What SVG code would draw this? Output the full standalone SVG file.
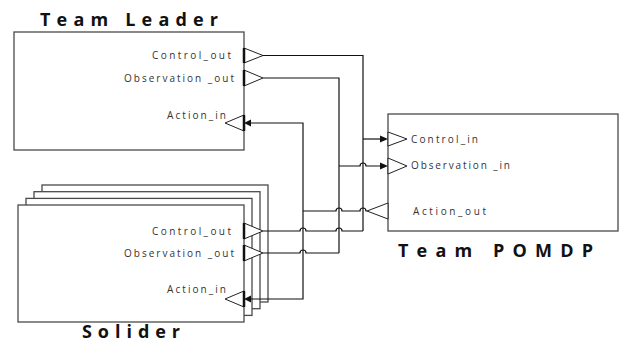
<svg xmlns="http://www.w3.org/2000/svg" width="623" height="343" viewBox="0 0 623 343">
  <style>
    .box { fill: #fff; stroke: #4a4a4a; stroke-width: 1.3; }
    .port { fill: #fff; stroke: #222; stroke-width: 1; }
    .base { stroke: #111; stroke-width: 2.5; }
    .wire { fill: none; stroke: #111; stroke-width: 1.2; }
    .head { fill: #111; }
    .lbl { font-family: "Open Sans", "DejaVu Sans", sans-serif; font-size: 10px; fill: #333; }
    .title { font-family: "Open Sans", "DejaVu Sans", sans-serif; font-size: 18px; font-weight: bold; fill: #111; }
  </style>

  <!-- Team Leader block -->
  <g id="team-leader">
    <text class="title" x="40" y="26" textLength="178" lengthAdjust="spacing">Team Leader</text>
    <rect class="box" x="14" y="32" width="230" height="118"/>
    <polygon class="port" points="244,48 263,55.5 244,63"/>
    <line class="base" x1="244" y1="48" x2="244" y2="63"/>
    <polygon class="port" points="244,70 263,78 244,86"/>
    <line class="base" x1="244" y1="70" x2="244" y2="86"/>
    <polygon class="port" points="244,115 225,123 244,131"/>
    <line class="base" x1="244" y1="115" x2="244" y2="131"/>
    <text class="lbl" x="152" y="59" textLength="79" lengthAdjust="spacing">Control_out</text>
    <text class="lbl" x="124" y="82" textLength="110" lengthAdjust="spacing">Observation _out</text>
    <text class="lbl" x="167" y="119" textLength="59" lengthAdjust="spacing">Action_in</text>
  </g>

  <!-- Solider block (stacked instances) -->
  <g id="solider">
    <rect class="box" x="42" y="185" width="226" height="117"/>
    <rect class="box" x="34" y="191.7" width="226" height="117"/>
    <rect class="box" x="26" y="198.4" width="226" height="117"/>
    <rect class="box" x="18" y="205" width="226" height="117"/>
    <polygon class="port" points="244,223 263,231 244,239"/>
    <line class="base" x1="244" y1="223" x2="244" y2="239"/>
    <polygon class="port" points="244,245 263,253 244,261"/>
    <line class="base" x1="244" y1="245" x2="244" y2="261"/>
    <polygon class="port" points="244,291 225,299 244,307"/>
    <line class="base" x1="244" y1="291" x2="244" y2="307"/>
    <text class="lbl" x="152" y="235" textLength="79" lengthAdjust="spacing">Control_out</text>
    <text class="lbl" x="124" y="257" textLength="110" lengthAdjust="spacing">Observation _out</text>
    <text class="lbl" x="167" y="293" textLength="59" lengthAdjust="spacing">Action_in</text>
    <text class="title" x="82" y="338" textLength="98" lengthAdjust="spacing">Solider</text>
  </g>

  <!-- Team POMDP block -->
  <g id="team-pomdp">
    <rect class="box" x="388" y="114" width="230" height="117"/>
    <polygon class="port" points="388,132 407,139 388,146"/>
    <polygon class="port" points="388,158 407,166 388,174"/>
    <polygon class="port" points="388,203 367,211 388,219"/>
    <text class="lbl" x="411" y="143" textLength="67" lengthAdjust="spacing">Control_in</text>
    <text class="lbl" x="411" y="169" textLength="99" lengthAdjust="spacing">Observation _in</text>
    <text class="lbl" x="413" y="215" textLength="73" lengthAdjust="spacing">Action_out</text>
    <text class="title" x="398" y="257" textLength="195" lengthAdjust="spacing">Team POMDP</text>
  </g>

  <!-- connectors, with hops where wires cross -->
  <g id="connectors">
    <!-- control outputs merged into Control_in -->
    <path class="wire" d="M263 55.5 H363 V231"/>
    <path class="wire" d="M363 139 H381"/>
    <path class="wire" d="M263 231 H300 A3 3 0 0 1 306 231 H336 A3 3 0 0 1 342 231 H363"/>
    <!-- observation outputs merged into Observation_in -->
    <path class="wire" d="M263 78 H339 V253"/>
    <path class="wire" d="M263 253 H300 A3 3 0 0 1 306 253 H339"/>
    <path class="wire" d="M339 166 H360 A3 3 0 0 1 366 166 H381"/>
    <!-- Action_out fanned out to both Action_in ports -->
    <path class="wire" d="M303 211 H336 A3 3 0 0 1 342 211 H360 A3 3 0 0 1 366 211 H367"/>
    <path class="wire" d="M250 123 H303 V299 H250"/>
    <!-- arrowheads -->
    <polygon class="head" points="380,135.5 388,139 380,142.5"/>
    <polygon class="head" points="380,162.5 388,166 380,169.5"/>
    <polygon class="head" points="251,119.5 244,123 251,126.5"/>
    <polygon class="head" points="251,295.5 244,299 251,302.5"/>
  </g>
</svg>
